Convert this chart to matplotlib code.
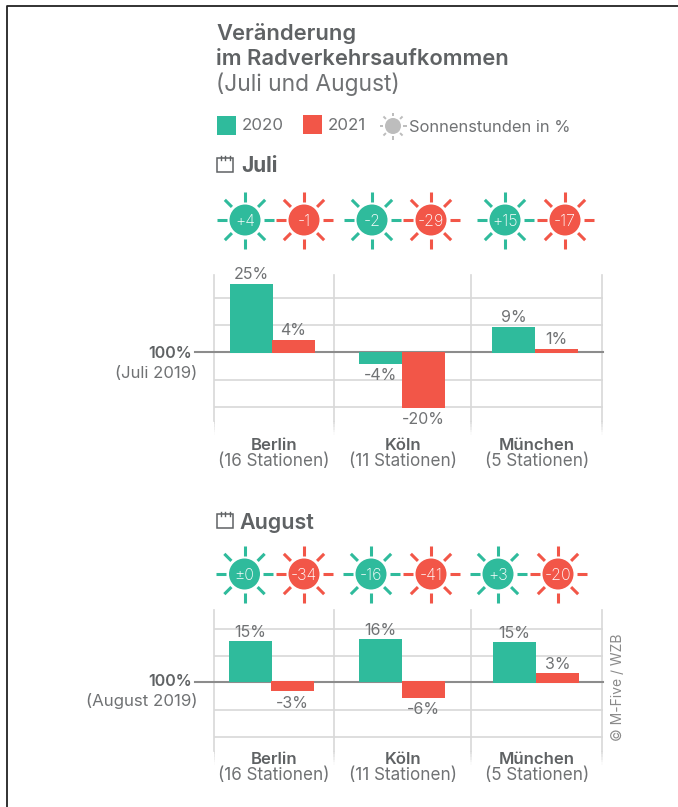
import numpy as np
import matplotlib
matplotlib.use("Agg")
import matplotlib.pyplot as plt
from matplotlib.patches import Circle, Rectangle

W, H = 678, 807
GREEN = "#2fbb9c"
RED = "#f25648"
TXT = "#707274"
DARK = "#5f6264"
FONT = "Inter"

cities = ["Berlin", "Köln", "München"]
stations = ["(16 Stationen)", "(11 Stationen)", "(5 Stationen)"]

juli_2020 = [24.6, -4.4, 8.9]
juli_2021 = [4.2, -20.4, 0.9]
juli_sun_2020 = ["+4", "-2", "+15"]
juli_sun_2021 = ["-1", "-29", "-17"]

aug_2020 = [15.0, 15.6, 14.6]
aug_2021 = [-3.4, -5.9, 3.2]
aug_sun_2020 = ["±0", "-16", "+3"]
aug_sun_2021 = ["-34", "-41", "-20"]

grid_vals = [19.5, 9.5, -10.2, -20.3]

plt.rcParams["font.family"] = FONT
fig = plt.figure(figsize=(W / 100, H / 100), dpi=100)
bg = fig.add_axes([0, 0, 1, 1])
bg.set_xlim(0, W)
bg.set_ylim(H, 0)
bg.axis("off")


def sun(x, y, color, label=None, r=15.5, r1=18.5, r2=28.5, lw=2.2):
    bg.add_patch(Circle((x, y), r, color=color, lw=0, zorder=3))
    for a in np.arange(8) * np.pi / 4:
        bg.plot([x + r1 * np.cos(a), x + r2 * np.cos(a)],
                [y + r1 * np.sin(a), y + r2 * np.sin(a)],
                color=color, lw=lw, solid_capstyle="butt", zorder=3)
    if label:
        bg.text(x, y + 1, label, color="white", fontsize=11.5, ha="center", va="center",
                zorder=4, fontweight="light")


def calendar(x, y):
    bg.add_patch(Rectangle((x, y), 16, 14, fc="none", ec=DARK, lw=1.1))
    for dx in (3.5, 8, 12.5):
        bg.plot([x + dx, x + dx], [y - 2, y + 2], color=DARK, lw=1)


def bar_chart(top, bottom, zero, scale, v20, v21, left, off_up):
    # axes in pixel x, percent y
    rect = [214 / W, 1 - bottom / H, (603 - 214) / W, (bottom - top) / H]
    ax = fig.add_axes(rect)
    ax.patch.set_alpha(0)
    ax.set_xlim(214, 603)
    ax.set_ylim((zero - bottom) / scale, (zero - top) / scale)
    ax.axis("off")
    ymin, ymax = ax.get_ylim()

    for g in grid_vals:
        ax.axhline(g, color="#dedede", lw=1.4, zorder=1)
    for vx in (214.5, 334, 471.5, 602.5):
        ax.plot([vx, vx], [ymin + 5, ymax - 1], color="#d8d8d8", lw=1.2, zorder=1, clip_on=False)
        # fade out at the bottom
        for k, a in enumerate(np.linspace(0.1, 0.9, 5)):
            y0 = ymin + k
            ax.plot([vx, vx], [y0, y0 + 1], color="#d8d8d8", lw=1.2, alpha=a, zorder=1,
                    solid_capstyle="butt")
    ax.plot([195, 603], [0, 0], color="#8c8c8c", lw=1.5, zorder=2, clip_on=False)

    w = 43
    for i in range(3):
        for x0, v, c in ((left[i], v20[i], GREEN), (left[i] + w - (i == 0), v21[i], RED)):
            base = -0.5 if v > 0 and v20[i] * v21[i] > 0 else 0.0
            if v < 0 and v20[i] > 0:
                base = 0.3
            ax.bar(x0, v - base, width=w, bottom=base, align="edge", color=c, zorder=3)
            off = off_up if v > 0 else -8.5
            ax.annotate(f"{round(v)}%", (x0 + w / 2, v), xytext=(0, off), textcoords="offset points",
                        ha="center", va="center", color=TXT, fontsize=11.5, zorder=5)
    return ax


# header
bg.text(216, 34, "Veränderung", color=DARK, fontsize=15.8, fontweight="semibold", va="center")
bg.text(216, 59, "im Radverkehrsaufkommen", color=DARK, fontsize=15.8, fontweight="semibold", va="center")
bg.text(216, 84, "(Juli und August)", color=TXT, fontsize=16.4, va="center")

# legend
bg.add_patch(Rectangle((217, 116), 19, 19, color=GREEN, lw=0))
bg.text(242, 126, "2020", color=TXT, fontsize=12.2, va="center")
bg.add_patch(Rectangle((303, 115), 19, 19, color=RED, lw=0))
bg.text(328, 126, "2021", color=TXT, fontsize=12.2, va="center")
sun(393, 126, "#bdbdbd", r=8, r1=10, r2=13.5, lw=1.4)
bg.text(409, 127, "Sonnenstunden in %", color=TXT, fontsize=11.9, va="center")

# Juli
calendar(217, 158)
bg.text(241, 166, "Juli", color=DARK, fontsize=15, fontweight="bold", va="center")
for x, s in zip((245, 372, 505), juli_sun_2020):
    sun(x, 220, GREEN, s)
for x, s in zip((304, 431, 565), juli_sun_2021):
    sun(x, 220, RED, s)
bar_chart(272, 435, 351.5, 2.75, juli_2020, juli_2021, [230, 359, 492], 7)
bg.text(192, 354, "100%", color=DARK, fontsize=11.5, fontweight="semibold", ha="right", va="center")
bg.text(197, 373, "(Juli 2019)", color=TXT, fontsize=12, ha="right", va="center")

# August
calendar(217, 514)
bg.text(239, 523, "August", color=DARK, fontsize=15.5, fontweight="semibold", va="center")
for x, s in zip((244.5, 371, 498), aug_sun_2020):
    sun(x, 574, GREEN, s)
for x, s in zip((304, 431, 558), aug_sun_2021):
    sun(x, 574, RED, s)
bar_chart(607, 765, 682, 2.73, aug_2020, aug_2021, [229, 359, 493], 6.5)
bg.text(192, 682, "100%", color=DARK, fontsize=11.5, fontweight="semibold", ha="right", va="center")
bg.text(197, 701, "(August 2019)", color=TXT, fontsize=12.2, ha="right", va="center")

# city labels
for x, c, s in zip((274, 403, 537), cities, stations):
    bg.text(x, 445, c, color=DARK, fontsize=12, fontweight="semibold", ha="center", va="center")
    bg.text(x, 462, s, color=TXT, fontsize=12.3, ha="center", va="center")
    bg.text(x, 760, c, color=DARK, fontsize=12, fontweight="semibold", ha="center", va="center")
    bg.text(x, 776, s, color=TXT, fontsize=12.3, ha="center", va="center")

bg.text(618, 687, "© M-Five / WZB", color="#8a8a8a", fontsize=10, rotation=90, ha="center", va="center")

# frame: only top and left edges show
bg.plot([6.5, 6.5, W], [H, 6, 6], color="#222222", lw=1.3)

fig.savefig("out.png", dpi=100)
